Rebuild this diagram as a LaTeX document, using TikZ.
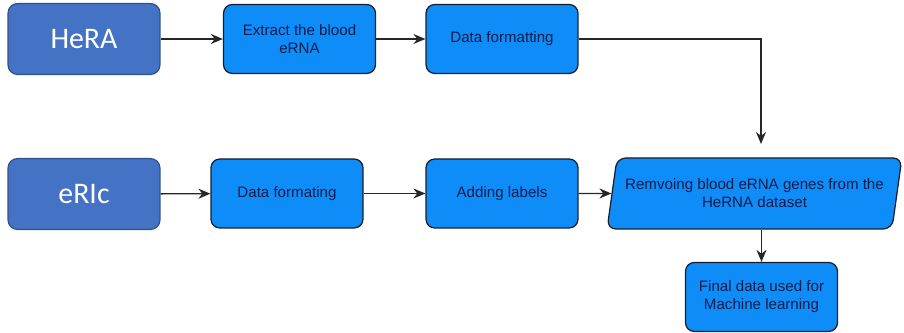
\documentclass[tikz,border=0pt]{standalone}
\usepackage{fontspec}
\setmainfont{Liberation Sans}
\newfontfamily\srcfont{Carlito}
\usetikzlibrary{arrows.meta,shapes.geometric}
\definecolor{srcblue}{RGB}{68,114,196}
\definecolor{srcedge}{RGB}{47,82,143}
\definecolor{stepfill}{RGB}{14,140,247}
\definecolor{stepedge}{RGB}{20,30,45}
\definecolor{steptext}{RGB}{18,28,72}
\tikzset{
  srcbox/.style  = {rounded corners=5.5pt, draw=srcedge, line width=0.7pt, fill=srcblue,
                    minimum width=3.04cm, minimum height=1.42cm, text=white,
                    font=\srcfont\fontsize{17}{20}\selectfont},
  stepbox/.style = {rounded corners=5pt, draw=stepedge, line width=0.7pt, fill=stepfill,
                    minimum width=3.04cm, minimum height=1.38cm, align=center,
                    text=steptext, font=\fontsize{8.6}{10.2}\selectfont},
  databox/.style = {stepbox, shape=trapezium, trapezium left angle=76.5,
                    trapezium right angle=103.5, trapezium stretches=true,
                    minimum width=5.9cm, minimum height=1.42cm},
  ar/.style      = {-{Stealth[length=2.4mm,width=2mm]}, line width=0.8pt, draw=black!85},
}
\begin{document}
\begin{tikzpicture}[x=0.02cm, y=-0.02cm]
    \useasboundingbox (0,0) rectangle (904,333);

    % top row
    \node[srcbox]  (hera)    at (84,39)    {HeRA};
    \node[stepbox] (extract) at (299.5,39) {Extract the blood\\eRNA};
    \node[stepbox] (fmttop)  at (502,39)   {Data formatting};

    % bottom row
    \node[srcbox]  (eric)    at (84,194)   {eRIc};
    \node[stepbox] (fmtbot)  at (287,193.5) {Data formating};
    \node[stepbox] (labels)  at (502,193.5) {Adding labels};
    \node[databox] (remove)  at (754.5,193.5)
         {Remvoing blood eRNA genes from the\\HeRNA dataset};
    \node[stepbox] (final)   at (761.5,297)
         {Final data used for\\Machine learning};
    \coordinate (drop) at (761,144);

    \draw[ar] (hera) -- (extract);
    \draw[ar] (extract) -- (fmttop);
    \draw[ar] (fmttop.east) -| (drop);
    \draw[ar] (eric) -- (fmtbot);
    \draw[ar] (fmtbot) -- (labels);
    \draw[ar] (labels) -- (remove);
    \draw[ar] (remove.south -| final.north) -- (final.north);
  \end{tikzpicture}
\end{document}
